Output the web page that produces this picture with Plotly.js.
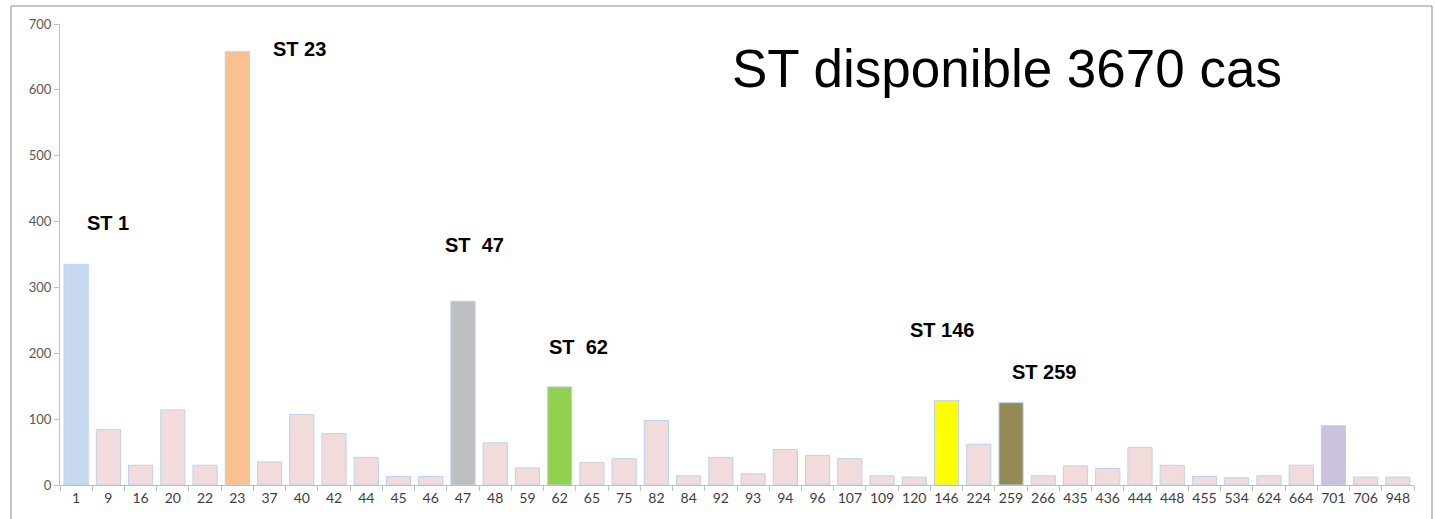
<!DOCTYPE html>
<html>
<head>
<meta charset="utf-8">
<script src="https://cdn.plot.ly/plotly-3.0.1.min.js"></script>
<style>html,body{margin:0;padding:0;background:#fff;}#chart{width:1435px;height:519px;}</style>
</head>
<body>
<div id="chart"></div>
<script>
const categories = ["1","9","16","20","22","23","37","40","42","44","45","46","47","48","59","62","65","75","82","84","92","93","94","96","107","109","120","146","224","259","266","435","436","444","448","455","534","624","664","701","706","948"];
const counts = [335,84,30,114,30,658,35,107,78,42,13,13,279,64,26,149,34,40,98,14,42,17,54,45,40,14,12,128,62,125,14,29,25,57,30,13,11,14,30,90,12,12];
const highlightColors = {"1":"#C6D9F1","23":"#FAC090","47":"#BFBFBF","62":"#92D050","146":"#FFFF00","259":"#948A54","701":"#CCC1DA"};
const labelCats = ["1","23","47","62","146","259"];
const labelTexts = ["ST 1","ST 23","ST&nbsp;&nbsp;47","ST&nbsp;&nbsp;62","ST 146","ST 259"];
const labelY = [398,662,364,210,235,172];
const labelOffset = [0.275,1.045,-0.62,-0.395,-1.2,-0.03];
const titleText = "ST disponible 3670 cas";

const colors = categories.map(c => highlightColors[c] || "#F2DCDB");

const trace = {
  type: "bar",
  x: categories,
  y: counts,
  marker: {color: colors, line: {color: "#B9D3F0", width: 1}},
  hoverinfo: "x+y"
};

const annotations = labelCats.map((c, i) => ({
  xref: "x", yref: "y", x: categories.indexOf(c) + labelOffset[i], y: labelY[i],
  xanchor: "left", yanchor: "middle",
  text: "<b>" + labelTexts[i] + "</b>", showarrow: false,
  font: {family: "Liberation Sans, Arial, sans-serif", size: 20, color: "#000"}
}));

const layout = {
  width: 1435, height: 519,
  margin: {l: 60, r: 21, t: 24, b: 34},
  paper_bgcolor: "#fff", plot_bgcolor: "#fff",
  showlegend: false,
  bargap: 0.25,
  title: {
    text: titleText,
    xref: "paper", x: 0.6994, xanchor: "center",
    yref: "container", y: 0.869, yanchor: "middle",
    font: {family: "Liberation Sans, Arial, sans-serif", size: 53, color: "#000"}
  },
  xaxis: {
    type: "category",
    range: [-0.5, categories.length - 0.5],
    showgrid: false,
    showline: true, linecolor: "#BFBFBF", linewidth: 1,
    ticks: "outside", ticklen: 5, tickcolor: "#BFBFBF", tickson: "boundaries",
    tickangle: 0,
    tickfont: {family: "Lato, Carlito, sans-serif", size: 14, color: "#404040"},
    fixedrange: true
  },
  yaxis: {
    range: [0, 700], dtick: 100,
    showgrid: false, zeroline: false,
    showline: true, linecolor: "#BFBFBF", linewidth: 1,
    ticks: "outside", ticklen: 5, tickcolor: "#BFBFBF",
    tickfont: {family: "Lato, Carlito, sans-serif", size: 13, color: "#595959"},
    fixedrange: true
  },
  annotations: annotations,
  shapes: [{
    type: "rect", xref: "paper", yref: "paper",
    x0: (11 - 60) / 1354, x1: (1432 - 60) / 1354,
    y0: -0.2, y1: (485 - 6) / 461,
    line: {color: "#8C8C8C", width: 1}, fillcolor: "rgba(0,0,0,0)", layer: "below"
  }]
};

Plotly.newPlot("chart", [trace], layout, {displayModeBar: false, staticPlot: true});
</script>
</body>
</html>
